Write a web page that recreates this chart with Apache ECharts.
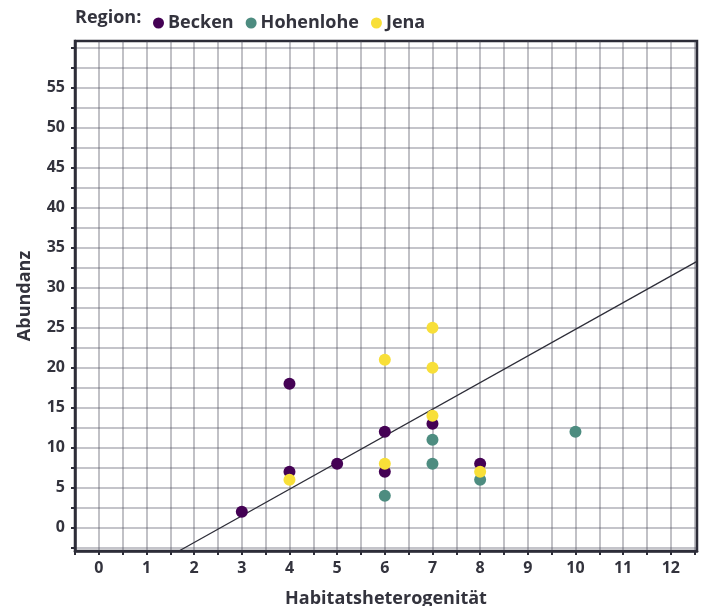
<!DOCTYPE html>
<html>
<head>
<meta charset="utf-8">
<script src="https://cdn.jsdelivr.net/npm/echarts@6/dist/echarts.min.js"></script>
<style>
html,body{margin:0;padding:0;background:#fff;}
#chart{width:703px;height:606px;}
</style>
</head>
<body>
<div id="chart"></div>
<script>
// ---- data ----
const regions = ['Becken', 'Hohenlohe', 'Jena'];
const regionColors = ['#440154', '#4d8c80', '#f8df38'];
const beckenX = [3, 4, 4, 5, 6, 6, 7, 8];
const beckenY = [2, 18, 7, 8, 12, 7, 13, 8];
const hohenloheX = [6, 7, 7, 8, 10];
const hohenloheY = [4, 11, 8, 6, 12];
const jenaX = [4, 6, 6, 7, 7, 7, 8];
const jenaY = [6, 21, 8, 25, 20, 14, 7];
const trendX = [1.7, 12.55];
const trendY = [-2.84, 33.3];
const xTickLabels = [0, 1, 2, 3, 4, 5, 6, 7, 8, 9, 10, 11, 12];
const yTickLabels = [0, 5, 10, 15, 20, 25, 30, 35, 40, 45, 50, 55];
const xTicks = [-0.5, 0, 0.5, 1, 1.5, 2, 2.5, 3, 3.5, 4, 4.5, 5, 5.5, 6, 6.5, 7, 7.5, 8, 8.5, 9, 9.5, 10, 10.5, 11, 11.5, 12, 12.5];
const yTicks = [-2.5, 0, 2.5, 5, 7.5, 10, 12.5, 15, 17.5, 20, 22.5, 25, 27.5, 30, 32.5, 35, 37.5, 40, 42.5, 45, 47.5, 50, 52.5, 55, 57.5, 60];
const xRange = [-0.5, 12.55];
const yRange = [-2.9, 60.84];

const seriesXY = [[beckenX, beckenY], [hohenloheX, hohenloheY], [jenaX, jenaY]];
const zip = (a, b) => a.map((v, i) => [v, b[i]]);

const FONT = '"Open Sans", "Noto Sans", sans-serif';
const TXT = '#33333d';
const DARK = '#2d2d38';
const GRIDC = 'rgba(70,70,85,0.42)';

const chart = echarts.init(document.getElementById('chart'), null, {renderer: 'canvas'});

const series = regions.map((r, i) => ({
  name: r,
  type: 'scatter',
  symbol: 'circle',
  symbolSize: 12,
  itemStyle: {color: regionColors[i], opacity: 1},
  data: zip(seriesXY[i][0], seriesXY[i][1]),
  z: 5
}));
series.unshift({
  name: 'trend',
  type: 'line',
  data: zip(trendX, trendY),
  symbol: 'none',
  lineStyle: {color: DARK, width: 1.3},
  silent: true,
  z: 3
});

chart.setOption({
  animation: false,
  textStyle: {fontFamily: FONT},
  graphic: [{
    type: 'text',
    left: 75, top: 9,
    style: {text: 'Region:', font: 'bold 18px ' + FONT, fill: TXT}
  }],
  legend: {
    data: regions,
    left: 148, top: 9,
    icon: 'circle',
    itemWidth: 11, itemHeight: 11,
    itemGap: 12,
    textStyle: {fontFamily: FONT, fontWeight: 'bold', fontSize: 18, color: TXT, padding: [0, 0, 0, -1]}
  },
  grid: {left: 75, top: 41, right: 6, bottom: 55, show: true, borderColor: DARK, borderWidth: 2.5, containLabel: false, outerBoundsMode: 'none'},
  xAxis: {
    type: 'value', min: xRange[0], max: xRange[1],
    name: 'Habitatsheterogenität', nameLocation: 'middle', nameGap: 39,
    nameTextStyle: {fontFamily: FONT, fontWeight: 'bold', fontSize: 18, color: TXT},
    axisLine: {show: true, onZero: false, lineStyle: {color: DARK, width: 2.5}},
    axisTick: {show: true, length: 4, customValues: xTicks, lineStyle: {color: DARK, width: 2}},
    axisLabel: {customValues: xTickLabels, margin: 9, fontFamily: FONT, fontWeight: 'bold', fontSize: 16, color: TXT},
    splitLine: {show: true, lineStyle: {color: GRIDC, width: 1.6}}
  },
  yAxis: {
    type: 'value', min: yRange[0], max: yRange[1],
    name: 'Abundanz', nameLocation: 'middle', nameGap: 41, nameRotate: 90,
    nameTextStyle: {fontFamily: FONT, fontWeight: 'bold', fontSize: 18, color: TXT},
    axisLine: {show: true, onZero: false, lineStyle: {color: DARK, width: 2.5}},
    axisTick: {show: true, length: 4, customValues: yTicks, lineStyle: {color: DARK, width: 2}},
    axisLabel: {customValues: yTickLabels, margin: 10, fontFamily: FONT, fontWeight: 'bold', fontSize: 16, color: TXT},
    splitLine: {show: true, lineStyle: {color: GRIDC, width: 1.6}}
  },
  series: series
});
</script>
</body>
</html>
